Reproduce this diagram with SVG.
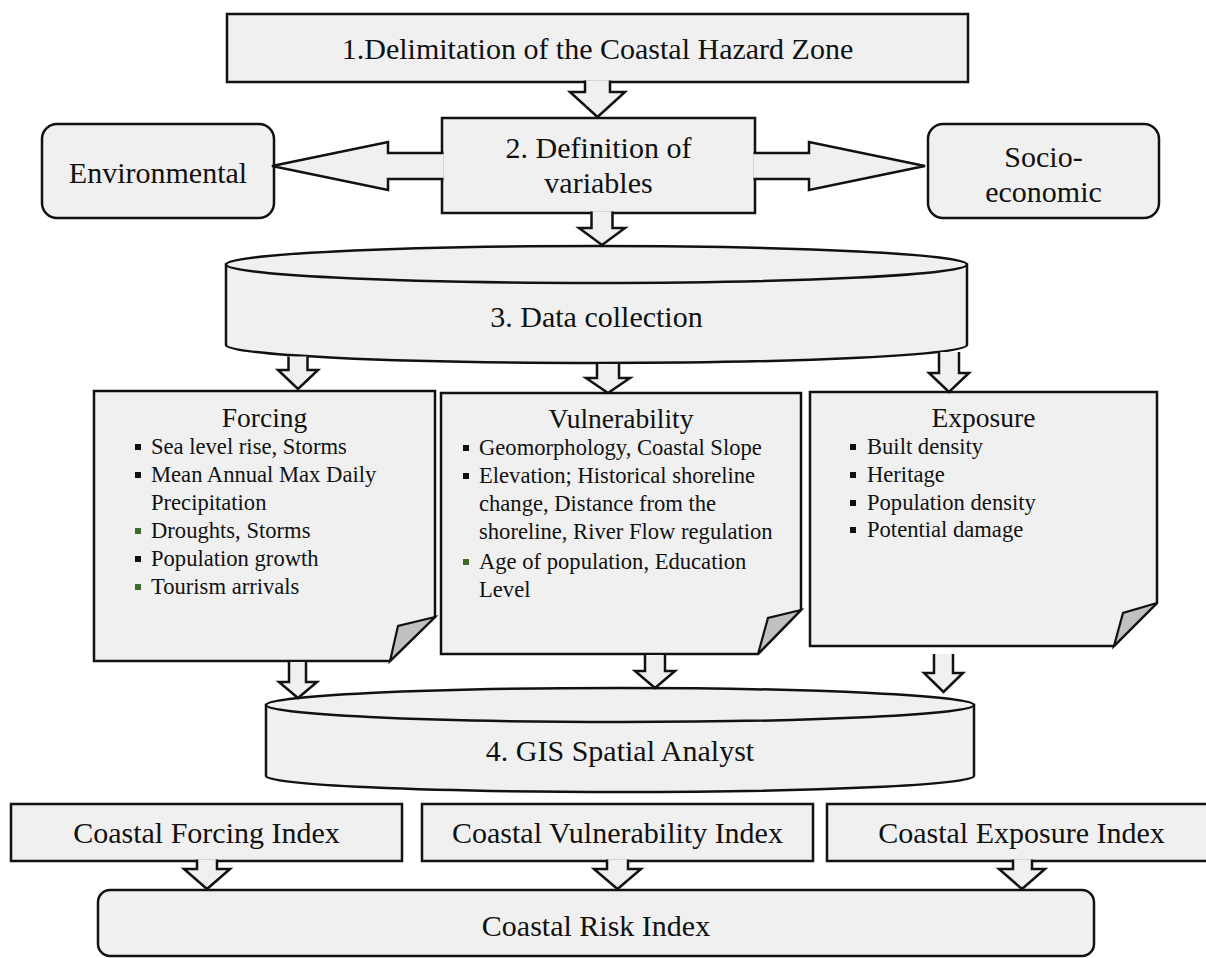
<svg xmlns="http://www.w3.org/2000/svg" width="1206" height="958" viewBox="0 0 1206 958">
<style>
.box{fill:#f0f0f0;stroke:#111;stroke-width:2.5;stroke-linejoin:miter}
.arr{fill:#f0f0f0;stroke:#111;stroke-width:2.5;stroke-linejoin:miter}
.fold{fill:#c0c0c0;stroke:#111;stroke-width:2.2}
.lbl{font-family:"Liberation Serif","Times New Roman",serif;font-size:30px;fill:#111;text-anchor:middle}
.ttl{font-family:"Liberation Serif","Times New Roman",serif;font-size:27.5px;fill:#111;text-anchor:middle}
.itm{font-family:"Liberation Serif","Times New Roman",serif;font-size:22.6px;fill:#111}
.bk{fill:#111}
.gr{fill:#3d6b2a}
</style>
<rect width="1206" height="958" fill="#fff"/>

<g id="n1">
<rect class="box" x="227" y="14" width="741" height="68"/>
<text class="lbl" x="597.5" y="59">1.Delimitation of the Coastal Hazard Zone</text>
</g>

<g id="n2">
<rect class="box" x="442" y="118" width="313" height="95"/>
<text class="lbl" x="598.5" y="158">2. Definition of</text>
<text class="lbl" x="598.5" y="193">variables</text>
</g>

<g id="env">
<rect class="box" x="42" y="124" width="232" height="94" rx="15"/>
<text class="lbl" x="158" y="183">Environmental</text>
</g>

<g id="socio">
<rect class="box" x="928" y="124" width="231" height="94" rx="15"/>
<text class="lbl" x="1043.5" y="167">Socio-</text>
<text class="lbl" x="1043.5" y="202">economic</text>
</g>

<g id="n3">
<path class="box" d="M226,264.5 V345 A370.5,18 0 0 0 967,345 V264.5 Z"/>
<ellipse class="box" cx="596.5" cy="264.5" rx="370.5" ry="18.5"/>
<text class="lbl" x="596.5" y="327">3. Data collection</text>
</g>

<g id="forcing">
<path class="box" d="M94,391 H435 V617 L390,661 H94 Z"/>
<path class="fold" d="M435,617 L398,626 L390,661 Z"/>
<text class="ttl" x="264.5" y="427">Forcing</text>
<rect class="bk" x="135" y="444" width="6" height="6"/>
<text class="itm" x="151" y="454">Sea level rise, Storms</text>
<rect class="bk" x="135" y="472" width="6" height="6"/>
<text class="itm" x="151" y="482">Mean Annual Max Daily</text>
<text class="itm" x="151" y="510">Precipitation</text>
<rect class="gr" x="135" y="528" width="6" height="6"/>
<text class="itm" x="151" y="538">Droughts, Storms</text>
<rect class="bk" x="135" y="556" width="6" height="6"/>
<text class="itm" x="151" y="566">Population growth</text>
<rect class="gr" x="135" y="584" width="6" height="6"/>
<text class="itm" x="151" y="594">Tourism arrivals</text>
</g>

<g id="vulnerability">
<path class="box" d="M441,393 H801 V610 L758,654 H441 Z"/>
<path class="fold" d="M801,610 L768,618 L758,654 Z"/>
<text class="ttl" x="621" y="428">Vulnerability</text>
<rect class="bk" x="463" y="445" width="6" height="6"/>
<text class="itm" x="479" y="455">Geomorphology, Coastal Slope</text>
<rect class="bk" x="463" y="473" width="6" height="6"/>
<text class="itm" x="479" y="483">Elevation; Historical shoreline</text>
<text class="itm" x="479" y="511">change, Distance from the</text>
<text class="itm" x="479" y="539">shoreline, River Flow regulation</text>
<rect class="gr" x="463" y="559" width="6" height="6"/>
<text class="itm" x="479" y="569">Age of population, Education</text>
<text class="itm" x="479" y="597">Level</text>
</g>

<g id="exposure">
<path class="box" d="M810,392 H1157 V603 L1114,646 H810 Z"/>
<path class="fold" d="M1157,603 L1123,613 L1114,646 Z"/>
<text class="ttl" x="983.5" y="427">Exposure</text>
<rect class="bk" x="850" y="444" width="6" height="6"/>
<text class="itm" x="867" y="454">Built density</text>
<rect class="bk" x="850" y="472" width="6" height="6"/>
<text class="itm" x="867" y="482">Heritage</text>
<rect class="bk" x="850" y="500" width="6" height="6"/>
<text class="itm" x="867" y="510">Population density</text>
<rect class="bk" x="850" y="527" width="6" height="6"/>
<text class="itm" x="867" y="537">Potential damage</text>
</g>

<g id="n4">
<path class="box" d="M266,705 V776 A354,16 0 0 0 974,776 V705 Z"/>
<ellipse class="box" cx="620" cy="705" rx="354" ry="17"/>
<text class="lbl" x="620" y="761">4. GIS Spatial Analyst</text>
</g>

<g id="cfi">
<rect class="box" x="11" y="804" width="391" height="57"/>
<text class="lbl" x="206.5" y="843">Coastal Forcing Index</text>
</g>

<g id="cvi">
<rect class="box" x="422" y="804" width="391" height="57"/>
<text class="lbl" x="617.5" y="843">Coastal Vulnerability Index</text>
</g>

<g id="cei">
<rect class="box" x="827" y="804" width="390" height="57"/>
<text class="lbl" x="1021.5" y="843">Coastal Exposure Index</text>
</g>

<g id="risk">
<rect class="box" x="98" y="890" width="996" height="66" rx="12"/>
<text class="lbl" x="596" y="936">Coastal Risk Index</text>
</g>

<g id="connectors">
<path class="arr" d="M585,80.5 V92 H570 L597.5,117 L625,92 H610 V80.5"/>
<path class="arr" d="M591.5,211.5 V228 H579 L602,245 L625,228 H612.5 V211.5"/>
<path class="arr" d="M443.5,153 H388 V142 L272,166 L388,190 V179 H443.5"/>
<path class="arr" d="M753.5,153 H809 V142 L925,166 L809,190 V179 H753.5"/>
<path class="arr" d="M288.5,356.5 V370 H278 L298,389 L318,370 H307.5 V356.5"/>
<path class="arr" d="M597,364 V378 H586 L608,393 L630,378 H619 V364"/>
<path class="arr" d="M939,352 V373 H929 L949,392 L969,373 H959 V352"/>
<path class="arr" d="M289,662 V682 H279 L298,698 L317,682 H306 V662"/>
<path class="arr" d="M645,655 V671 H635 L655,688 L675,671 H665 V655"/>
<path class="arr" d="M934,654 V673 H924 L943.5,692 L963,673 H953 V654"/>
<path class="arr" d="M197,859.5 V869 H184 L207,889 L230,869 H217 V859.5"/>
<path class="arr" d="M607,859.5 V869 H594 L617.5,889 L641,869 H628 V859.5"/>
<path class="arr" d="M1013,859.5 V869 H999 L1022,889 L1045,869 H1032 V859.5"/>
</g>
</svg>
